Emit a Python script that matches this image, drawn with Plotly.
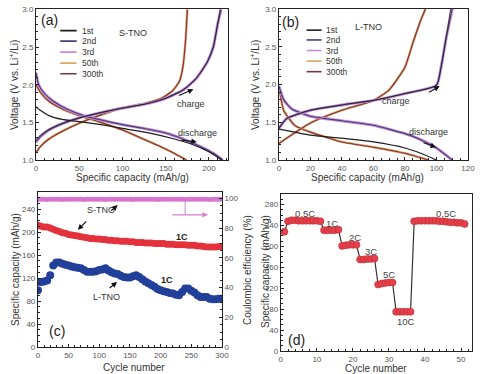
import plotly.graph_objects as go

# ---------------- data ----------------
# (a) S-TNO voltage profiles: capacity (mAh/g) / voltage (V)
a_dis1_cap = [0, 5, 15, 30, 50, 75, 100, 130, 160, 180, 200, 215]
a_dis1_v = [1.71, 1.66, 1.59, 1.54, 1.51, 1.47, 1.42, 1.36, 1.28, 1.21, 1.11, 1.0]
a_ch1_cap = [0, 5, 15, 30, 50, 75, 100, 125, 150, 170, 185, 198, 205, 210, 213]
a_ch1_v = [1.27, 1.33, 1.41, 1.49, 1.56, 1.63, 1.69, 1.74, 1.82, 1.93, 2.08, 2.3, 2.5, 2.8, 3.0]
a_dis23_cap = [0, 3, 10, 20, 35, 55, 80, 100, 125, 150, 170, 190, 205, 216]
a_dis23_v = [2.16, 2.0, 1.88, 1.78, 1.68, 1.59, 1.52, 1.47, 1.42, 1.36, 1.28, 1.18, 1.09, 1.0]
a_ch23_cap = [0, 5, 15, 30, 50, 75, 100, 125, 150, 170, 185, 198, 205, 210, 214]
a_ch23_v = [1.24, 1.31, 1.40, 1.48, 1.56, 1.63, 1.69, 1.74, 1.82, 1.93, 2.08, 2.3, 2.5, 2.8, 3.0]
a_dis50_cap = [0, 5, 15, 30, 50, 75, 100, 120, 140, 158, 174]
a_dis50_v = [2.0, 1.9, 1.78, 1.68, 1.59, 1.5, 1.4, 1.3, 1.2, 1.1, 1.0]
a_ch50_cap = [0, 5, 15, 30, 50, 75, 100, 125, 145, 158, 166, 170, 173, 175]
a_ch50_v = [1.1, 1.18, 1.28, 1.38, 1.49, 1.6, 1.69, 1.75, 1.82, 1.92, 2.05, 2.25, 2.6, 3.0]

# (b) L-TNO voltage profiles
b_dis1_cap = [0, 10, 20, 40, 60, 80, 90, 100]
b_dis1_v = [1.41, 1.37, 1.33, 1.29, 1.24, 1.16, 1.09, 1.0]
b_ch1_cap = [0, 5, 20, 40, 60, 80, 100, 103, 106, 109]
b_ch1_v = [1.42, 1.55, 1.66, 1.73, 1.79, 1.88, 1.99, 2.24, 2.6, 3.0]
b_dis23_cap = [0, 3, 8, 20, 40, 60, 80, 90, 100, 110]
b_dis23_v = [1.98, 1.8, 1.68, 1.58, 1.52, 1.46, 1.35, 1.27, 1.16, 1.0]
b_ch23_cap = [0, 5, 20, 40, 60, 80, 100, 103, 106, 110]
b_ch23_v = [1.42, 1.55, 1.66, 1.73, 1.79, 1.88, 1.99, 2.24, 2.6, 3.0]
b_dis50_cap = [0, 3, 10, 20, 40, 60, 80, 95]
b_dis50_v = [1.98, 1.66, 1.46, 1.37, 1.24, 1.17, 1.09, 1.0]
b_ch50_cap = [0, 20, 40, 60, 70, 80, 85, 90, 93]
b_ch50_v = [1.22, 1.49, 1.66, 1.79, 1.93, 2.23, 2.55, 2.85, 3.0]

cycle_labels = ["1st", "2nd", "3rd", "50th", "300th"]
cycle_colors = ["#1e1e1e", "#4a3c7a", "#c58fd6", "#e2a25e", "#7a3444"]

# (c) cycling at 1C
c_cycles = list(range(0, 301, 5))
c_stno = [212, 210, 209, 209, 207, 205, 203, 201, 199, 198, 196, 195, 194, 193, 192, 191,
          190, 189, 189, 188, 188, 187, 187, 186, 186, 185, 185, 184, 184, 184, 183, 183,
          182, 182, 182, 181, 181, 181, 180, 180, 180, 180, 179, 179, 179, 178, 178, 178,
          178, 177, 177, 177, 176, 176, 175, 174, 174, 174, 174, 175, 175]
c_ltno = [99, 113, 114, 116, 125, 142, 147, 147, 145, 143, 142, 140, 139, 138, 137, 134,
          131, 131, 131, 132, 134, 135, 137, 133, 130, 128, 127, 124, 122, 121, 121, 123,
          125, 122, 118, 114, 111, 108, 105, 101, 99, 97, 96, 94, 93, 91, 90, 96,
          102, 102, 98, 95, 90, 87, 87, 87, 84, 83, 83, 84, 84]
c_ce = [99.4, 99.5, 99.5, 99.4, 99.5, 99.6, 99.5, 99.5, 99.4, 99.5, 99.5, 99.6, 99.5, 99.5, 99.5, 99.4,
        99.5, 99.5, 99.6, 99.5, 99.5, 99.5, 99.4, 99.5, 99.5, 99.5, 99.6, 99.5, 99.5, 99.5, 99.5, 99.4,
        99.5, 99.5, 99.5, 99.6, 99.5, 99.5, 99.5, 99.4, 99.5, 99.5, 99.5, 99.6, 99.5, 99.5, 99.5, 99.5,
        99.4, 99.5, 99.5, 99.5, 99.6, 99.5, 99.5, 99.5, 99.4, 99.5, 99.5, 99.5, 99.5]

# (d) rate capability
d_cycles = list(range(1, 52))
d_cap = [228, 248, 250, 250, 249, 249, 249, 249, 249, 249, 248,
         231, 231, 231, 231, 232,
         201, 202, 203, 203, 203,
         175, 175, 176, 176, 177,
         127, 129, 130, 131, 131,
         75, 75, 75, 75, 75,
         248, 249, 249, 249, 249, 249, 249, 248, 248, 247, 246, 246, 245, 245, 243]
d_rate_labels = ["0.5C", "1C", "2C", "3C", "5C", "10C", "0.5C"]
d_rate_x = [6.7, 14.3, 20.6, 25, 30, 34.7, 45.8]
d_rate_y = [262, 244, 217, 190, 147, 56, 262]

# ---------------- figure ----------------
FONT = "Liberation Sans, Arial, sans-serif"
fig = go.Figure()


def vcurve(cap, v, color, width, xa, ya):
    fig.add_trace(go.Scatter(x=cap, y=v, mode="lines", xaxis=xa, yaxis=ya,
                             line=dict(color=color, width=width, shape="spline", smoothing=0.5),
                             showlegend=False, hoverinfo="skip"))


for xa, ya, sets in [
    ("x", "y", [(a_dis50_cap, a_dis50_v, a_ch50_cap, a_ch50_v),
                (a_dis23_cap, a_dis23_v, a_ch23_cap, a_ch23_v),
                (a_dis1_cap, a_dis1_v, a_ch1_cap, a_ch1_v)]),
    ("x2", "y2", [(b_dis50_cap, b_dis50_v, b_ch50_cap, b_ch50_v),
                  (b_dis23_cap, b_dis23_v, b_ch23_cap, b_ch23_v),
                  (b_dis1_cap, b_dis1_v, b_ch1_cap, b_ch1_v)]),
]:
    s50, s23, s1 = sets
    for cap, v in [(s50[0], s50[1]), (s50[2], s50[3])]:
        vcurve(cap, v, cycle_colors[3], 2.4, xa, ya)
        vcurve(cap, v, cycle_colors[4], 1.1, xa, ya)
    for cap, v in [(s23[0], s23[1]), (s23[2], s23[3])]:
        vcurve(cap, v, cycle_colors[2], 3.0, xa, ya)
        vcurve(cap, v, cycle_colors[1], 1.1, xa, ya)
    vcurve(s1[0], s1[1], cycle_colors[0], 1.2, xa, ya)
    vcurve(s1[2], s1[3], cycle_colors[0], 0.8, xa, ya)

# (c)
fig.add_trace(go.Scatter(x=c_cycles, y=c_ce, mode="markers", xaxis="x3", yaxis="y4",
                         marker=dict(color="#d774d2", size=5, line=dict(width=0)),
                         showlegend=False, hoverinfo="skip"))
fig.add_trace(go.Scatter(x=c_cycles, y=c_stno, mode="markers", xaxis="x3", yaxis="y3",
                         marker=dict(color="#e4323d", size=7, line=dict(width=0)),
                         showlegend=False, hoverinfo="skip"))
fig.add_trace(go.Scatter(x=c_cycles, y=c_ltno, mode="markers", xaxis="x3", yaxis="y3",
                         marker=dict(color="#22409a", size=8, line=dict(width=0)),
                         showlegend=False, hoverinfo="skip"))

# (d)
fig.add_trace(go.Scatter(x=d_cycles, y=d_cap, mode="lines+markers", xaxis="x4", yaxis="y5",
                         line=dict(color="#333333", width=1.2),
                         marker=dict(color="#e5404a", size=7, line=dict(color="#c02a35", width=0.6)),
                         showlegend=False, hoverinfo="skip"))

TICKF = dict(family=FONT, size=8, color="#555555")
TITLEF = dict(family=FONT, size=10, color="#333333")


def ax(**kw):
    base = dict(showline=True, linecolor="#222222", linewidth=1, mirror=True,
                ticks="inside", ticklen=3, tickcolor="#222222", showgrid=False,
                zeroline=False, tickfont=TICKF, automargin=False,
                minor=dict(ticks="inside", ticklen=2, tickcolor="#222222", showgrid=False))
    base.update(kw)
    return base


fig.update_layout(
    template="none",
    width=480, height=374, margin=dict(l=0, r=0, t=0, b=0, autoexpand=False),
    paper_bgcolor="white", plot_bgcolor="white", showlegend=False,
    xaxis=ax(domain=[0.075, 0.475], anchor="y", range=[0, 222], dtick=50),
    yaxis=ax(domain=[0.572, 0.975], anchor="x", range=[1, 3], dtick=0.5, tickformat=".1f"),
    xaxis2=ax(domain=[0.581, 0.975], anchor="y2", range=[0, 120], dtick=20),
    yaxis2=ax(domain=[0.572, 0.976], anchor="x2", range=[1, 3], dtick=0.5, tickformat=".1f"),
    xaxis3=ax(domain=[0.079, 0.4625], anchor="y3", range=[0, 300], dtick=50),
    yaxis3=ax(domain=[0.072, 0.487], anchor="x3", range=[0, 270], dtick=40),
    yaxis4=ax(domain=[0.072, 0.487], anchor="x3", overlaying="y3", side="right",
              range=[0, 104.5], dtick=20, mirror=False),
    xaxis4=ax(domain=[0.585, 0.983], anchor="y5", range=[0, 53], dtick=10),
    yaxis5=ax(domain=[0.0615, 0.481], anchor="x4", range=[0, 300], dtick=40),
)

ann = []
shapes = []


def txt(x, y, s, xr, yr, size=9, color="#333333", bold=False, xanchor="center", angle=0):
    ann.append(dict(x=x, y=y, xref=xr, yref=yr, text=("<b>%s</b>" % s) if bold else s,
                    showarrow=False, xanchor=xanchor, yanchor="middle", textangle=angle,
                    font=dict(family=FONT, size=size, color=color)))


def arrow(x, y, dx, dy, xr, yr, color="#111111"):
    ann.append(dict(x=x, y=y, xref=xr, yref=yr, ax=dx, ay=dy, text="", showarrow=True,
                    arrowhead=2, arrowsize=1, arrowwidth=1.1, arrowcolor=color))


# axis titles (paper coordinates)
for (px, py, s, ang) in [
    (132, 177, "Specific capacity (mAh/g)", 0),
    (367, 177, "Specific capacity (mAh/g)", 0),
    (14, 85, "Voltage (V vs. Li<sup>+</sup>/Li)", -90),
    (255, 85, "Voltage (V vs. Li<sup>+</sup>/Li)", -90),
    (134, 367.5, "Cycle number", 0),
    (15, 270, "Specific capacity (mAh/g)", -90),
    (247, 270, "Coulombic efficiency (%)", -90),
    (376, 368, "Cycle number", 0),
    (265, 272, "Specific capacity (mAh/g)", -90),
]:
    txt(px / 480, 1 - py / 374, s, "paper", "paper", size=10, color="#333333", angle=ang)

# legends for (a) and (b)
leg_a_y = [2.718, 2.579, 2.433, 2.286, 2.146]
leg_b_y = [2.72, 2.59, 2.45, 2.31, 2.17]
for i, lab in enumerate(cycle_labels):
    shapes.append(dict(type="line", xref="x", yref="y", x0=28, x1=47, y0=leg_a_y[i], y1=leg_a_y[i],
                       line=dict(color=cycle_colors[i], width=1.6)))
    txt(51, leg_a_y[i], lab, "x", "y", size=8.5, xanchor="left")
    shapes.append(dict(type="line", xref="x2", yref="y2", x0=17.6, x1=27.1, y0=leg_b_y[i], y1=leg_b_y[i],
                       line=dict(color=cycle_colors[i], width=1.6)))
    txt(28.6, leg_b_y[i], lab, "x2", "y2", size=8.5, xanchor="left")

# (a)
txt(16, 2.86, "(a)", "x", "y", size=14, color="#222222")
txt(112, 2.69, "S-TNO", "x", "y", size=9)
txt(179, 1.74, "charge", "x", "y", size=9)
txt(187, 1.36, "discharge", "x", "y", size=9)
arrow(182, 1.94, -16, 7, "x", "y")
arrow(186, 1.24, -17, -2, "x", "y")
# (b)
txt(7.6, 2.83, "(b)", "x2", "y2", size=14, color="#222222")
txt(56.8, 2.76, "L-TNO", "x2", "y2", size=9)
txt(74.3, 1.78, "charge", "x2", "y2", size=9)
txt(95.2, 1.37, "discharge", "x2", "y2", size=9)
arrow(102, 1.98, -12, 7, "x2", "y2")
arrow(99.7, 1.17, -14, -5, "x2", "y2")
# (c)
txt(31, 28, "(c)", "x3", "y3", size=14, color="#222222")
txt(102.7, 238.7, "S-TNO", "x3", "y3", size=9)
txt(111, 87, "L-TNO", "x3", "y3", size=9)
txt(235, 191.6, "1C", "x3", "y3", size=9, color="#222222", bold=True)
txt(210, 116.7, "1C", "x3", "y3", size=9, color="#222222", bold=True)
arrow(130, 247, -8, 7, "x3", "y3")
arrow(65, 204, 10, -10, "x3", "y3")
arrow(129, 113, -9, 7, "x3", "y3")
shapes.append(dict(type="line", xref="x3", yref="y3", x0=240, x1=240, y0=253, y1=230,
                   line=dict(color="#d77fc8", width=1)))
arrow(277, 230, -37, 0, "x3", "y3", color="#d77fc8")
# (d)
txt(4.4, 21, "(d)", "x4", "y5", size=14, color="#222222")
for lab, xx, yy in zip(d_rate_labels, d_rate_x, d_rate_y):
    txt(xx, yy, lab, "x4", "y5", size=9.5, color="#444444")

fig.update_layout(annotations=ann, shapes=shapes)
fig.write_html("out.html", config={"displayModeBar": False},
               post_script="document.body.style.margin='0';document.body.style.overflow='hidden';")
